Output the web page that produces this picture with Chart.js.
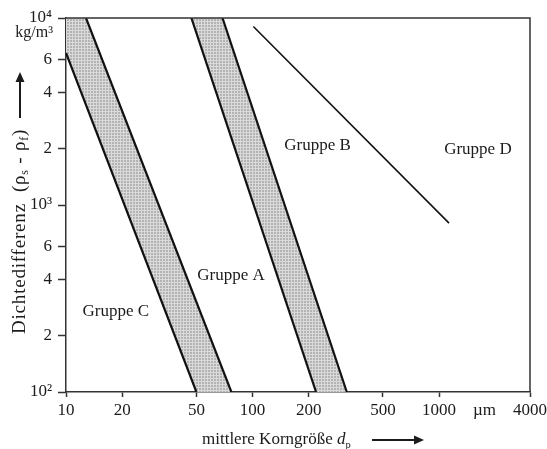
<!DOCTYPE html>
<html>
<head>
<meta charset="utf-8">
<script src="https://cdn.jsdelivr.net/npm/chart.js@4/dist/chart.umd.min.js"></script>
<style>
  html, body { margin: 0; padding: 0; background: #fff; }
  canvas { display: block; }
</style>
</head>
<body>
<canvas id="geldart" width="547" height="449"></canvas>
<script>
// Particle diameter ticks (µm) and density-difference ticks (kg/m³)
const xTickValues = [10, 20, 50, 100, 200, 500, 1000, 1750, 3070];
const xTickLabels = ['10', '20', '50', '100', '200', '500', '1000', 'µm', '4000'];
const yTickValues = [100, 200, 400, 600, 1000, 2000, 4000, 6000, 10000];
const yTickLabels = ['10²', '2', '4', '6', '10³', '2', '4', '6', '10⁴'];

// Boundary C | A (left edge and right edge of the transition band)
const caLeftD = [10, 50];
const caLeftRho = [6500, 100];
const caRightD = [12.8, 77];
const caRightRho = [10000, 100];

// Boundary A | B
const abLeftD = [47, 219];
const abLeftRho = [10000, 100];
const abRightD = [69, 320];
const abRightRho = [10000, 100];

// Boundary B | D
const bdD = [101, 1130];
const bdRho = [9000, 800];

// Group names and where they sit in the diagram
const groupNames = ['Gruppe C', 'Gruppe A', 'Gruppe B', 'Gruppe D'];
const groupD = [18.5, 76.6, 223, 1614];
const groupRho = [268, 422, 2070, 1987];

const X_MIN = xTickValues[0], X_MAX = xTickValues[xTickValues.length - 1];
const Y_MIN = yTickValues[0], Y_MAX = yTickValues[yTickValues.length - 1];

const pts = (xs, ys) => xs.map((x, i) => ({ x, y: ys[i] }));

// fine grey cross-hatch used for the transition bands
function makeHatch() {
  const c = document.createElement('canvas');
  c.width = 3; c.height = 3;
  const g = c.getContext('2d');
  g.fillStyle = '#b3b3b3';
  g.fillRect(0, 0, 3, 3);
  g.fillStyle = '#dadada';
  g.fillRect(0, 0, 3, 1);
  g.fillRect(0, 0, 1, 3);
  return g.createPattern(c, 'repeat');
}
const hatch = makeHatch();

const serif = 'Liberation Serif';
const ink = '#1b1b1b';

const lineDs = (xs, ys, w) => ({
  data: pts(xs, ys), showLine: true, fill: false,
  borderColor: '#111', borderWidth: w, pointRadius: 0, order: 1
});
const bandDs = (poly) => ({
  data: poly, showLine: true, fill: 'shape',
  backgroundColor: hatch, borderWidth: 0, borderColor: 'rgba(0,0,0,0)',
  pointRadius: 0, order: 5
});

// polygons of the two bands built from their boundary lines
const caBand = [{ x: X_MIN, y: Y_MAX }, ...pts(caRightD, caRightRho), ...pts(caLeftD, caLeftRho).reverse()];
const abBand = [...pts(abRightD, abRightRho), ...pts(abLeftD, abLeftRho).reverse()];

function arrow(ctx, x1, y1, x2, y2) {
  const ang = Math.atan2(y2 - y1, x2 - x1);
  const hl = 10, hw = 4.5;
  const bx = x2 - hl * Math.cos(ang), by = y2 - hl * Math.sin(ang);
  ctx.beginPath();
  ctx.moveTo(x1, y1);
  ctx.lineTo(bx, by);
  ctx.lineWidth = 2;
  ctx.strokeStyle = ink;
  ctx.stroke();
  ctx.beginPath();
  ctx.moveTo(x2, y2);
  ctx.lineTo(bx - hw * Math.sin(ang), by + hw * Math.cos(ang));
  ctx.lineTo(bx + hw * Math.sin(ang), by - hw * Math.cos(ang));
  ctx.closePath();
  ctx.fillStyle = ink;
  ctx.fill();
}

// draw a run of text pieces; pieces with sub:true are small and lowered
function richText(ctx, x, y, pieces, size) {
  let cx = x;
  for (const p of pieces) {
    const s = p.sub ? size * 0.62 : size;
    ctx.font = (p.italic ? 'italic ' : '') + s + 'px "' + serif + '"';
    ctx.fillText(p.t, cx, y + (p.sub ? size * 0.28 : 0));
    cx += ctx.measureText(p.t).width;
  }
  return cx;
}

const decor = {
  id: 'decor',
  afterDatasetsDraw(chart) {
    const { ctx, chartArea: a, scales: { x, y } } = chart;
    ctx.save();
    // frame: top and right edge
    ctx.strokeStyle = '#333';
    ctx.lineWidth = 1.5;
    ctx.beginPath();
    ctx.moveTo(a.left, a.top);
    ctx.lineTo(a.right, a.top);
    ctx.lineTo(a.right, a.bottom);
    ctx.stroke();

    // group names
    ctx.fillStyle = ink;
    ctx.font = '17px "' + serif + '"';
    ctx.textAlign = 'center';
    ctx.textBaseline = 'middle';
    groupNames.forEach((n, i) => {
      ctx.fillText(n, x.getPixelForValue(groupD[i]), y.getPixelForValue(groupRho[i]));
    });

    // unit under the top y label
    ctx.textAlign = 'right';
    ctx.font = '16px "' + serif + '"';
    ctx.fillText('kg/m³', 53, y.getPixelForValue(Y_MAX) + 15);

    // y title, rotated
    ctx.save();
    ctx.translate(20, 334);
    ctx.rotate(-Math.PI / 2);
    ctx.textAlign = 'left';
    ctx.textBaseline = 'middle';
    ctx.letterSpacing = '0.8px';
    richText(ctx, 0, 0, [
      { t: 'Dichtedifferenz  (ρ' }, { t: 's', sub: true }, { t: ' - ρ' }, { t: 'f', sub: true }, { t: ')' }
    ], 19);
    ctx.restore();
    arrow(ctx, 20, 118, 20, 72);

    // x title
    ctx.textAlign = 'left';
    ctx.textBaseline = 'middle';
    richText(ctx, 202, 440, [
      { t: 'mittlere Korngröße ' }, { t: 'd', italic: true }, { t: 'p', sub: true }
    ], 17);
    arrow(ctx, 372, 440, 424, 440);
    ctx.restore();
  }
};

new Chart(document.getElementById('geldart'), {
  type: 'scatter',
  data: {
    datasets: [
      lineDs(caLeftD, caLeftRho, 2.2),
      lineDs(caRightD, caRightRho, 2.2),
      lineDs(abLeftD, abLeftRho, 2.2),
      lineDs(abRightD, abRightRho, 2.2),
      lineDs(bdD, bdRho, 1.6),
      bandDs(caBand),
      bandDs(abBand)
    ]
  },
  options: {
    responsive: false,
    animation: false,
    layout: { padding: { top: 18, right: 17, bottom: 0, left: 0 } },
    plugins: { legend: { display: false }, tooltip: { enabled: false } },
    scales: {
      x: {
        type: 'logarithmic', min: X_MIN, max: X_MAX,
        afterBuildTicks: s => { s.ticks = xTickValues.map(v => ({ value: v })); },
        afterFit: s => { s.height = 57; s.paddingLeft = 0; s.paddingRight = 0; },
        ticks: {
          callback: (v, i) => xTickLabels[i],
          autoSkip: false, maxRotation: 0, padding: 3,
          color: ink, font: { family: serif, size: 17 }
        },
        grid: {
          drawOnChartArea: false, tickLength: 5, tickWidth: 1.5,
          tickColor: c => xTickLabels[c.index] === 'µm' ? 'rgba(0,0,0,0)' : '#333'
        },
        border: { color: '#333', width: 1.5 }
      },
      y: {
        type: 'logarithmic', min: Y_MIN, max: Y_MAX,
        afterBuildTicks: s => { s.ticks = yTickValues.map(v => ({ value: v })); },
        afterFit: s => { s.width = 66; s.paddingTop = 0; s.paddingBottom = 0; },
        ticks: {
          callback: (v, i) => yTickLabels[i],
          autoSkip: false, padding: 6,
          color: ink, font: { family: serif, size: 17 }
        },
        grid: { drawOnChartArea: false, tickLength: 8, tickWidth: 1.5, tickColor: '#333' },
        border: { color: '#333', width: 1.5 }
      }
    }
  },
  plugins: [decor]
});
</script>
</body>
</html>
